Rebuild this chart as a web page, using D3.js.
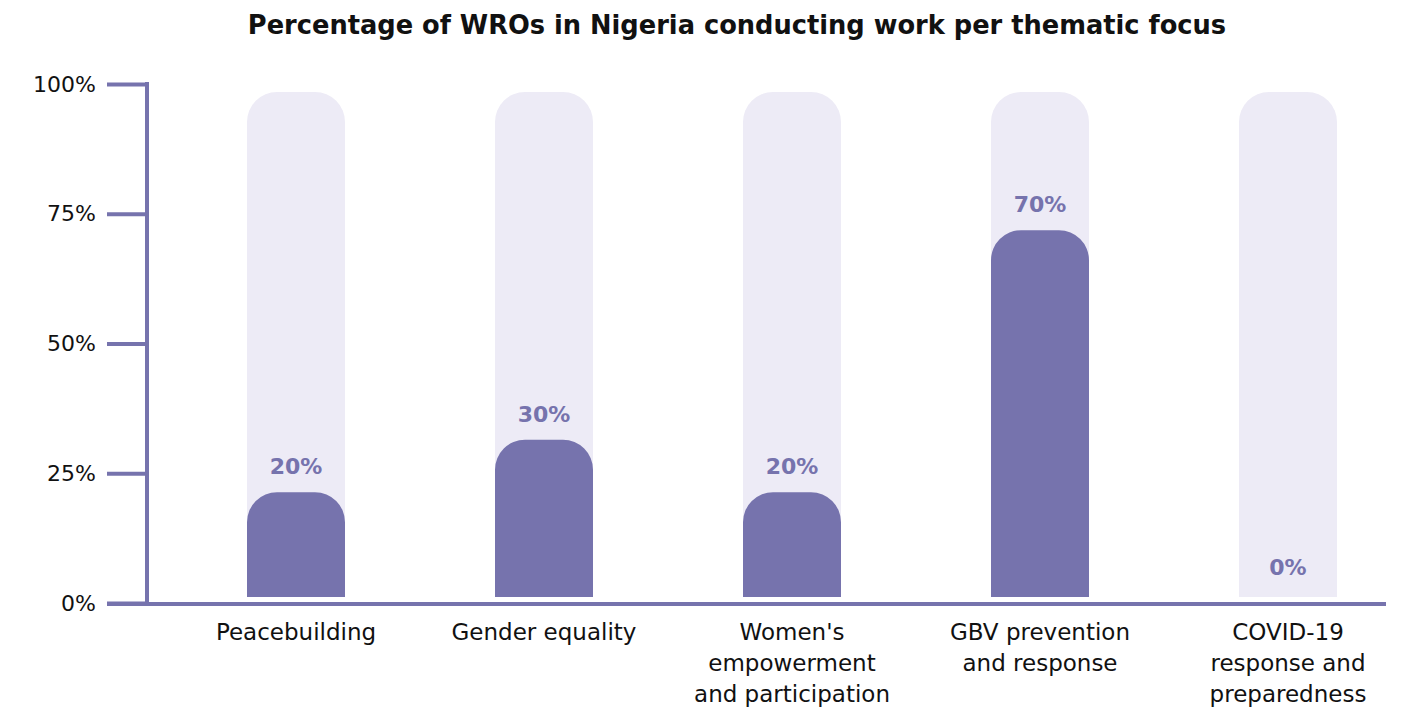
<!DOCTYPE html>
<html>
<head>
<meta charset="utf-8">
<script src="https://cdn.jsdelivr.net/npm/d3@7"></script>
<style>
  body { margin: 0; background: #fff; }
  svg { display: block; font-family: "DejaVu Sans", sans-serif; }
</style>
</head>
<body>
<div id="chart"></div>
<script>
// data
const categories = [
    ["Peacebuilding"],
    ["Gender equality"],
    ["Women's", "empowerment", "and participation"],
    ["GBV prevention", "and response"],
    ["COVID-19", "response and", "preparedness"]
];
const values = [20, 30, 20, 70, 0];
const tickValues = [0, 25, 50, 75, 100];

const width = 1404;
const height = 710;
const purple = "#7673ad";
const track = "#edebf6";

const svg = d3.select("#chart").append("svg")
    .attr("width", width)
    .attr("height", height);

// title
svg.append("text")
    .attr("x", 737)
    .attr("y", 34)
    .attr("text-anchor", "middle")
    .attr("font-size", 25.7)
    .attr("font-weight", "bold")
    .attr("fill", "#111")
    .text("Percentage of WROs in Nigeria conducting work per thematic focus");

// scales
const x = d3.scaleBand()
    .domain(d3.range(categories.length))
    .range([172, 1412])
    .padding(0);
const barW = 98;

const yAxisScale = d3.scaleLinear().domain([0, 100]).range([603, 84]);
const yBar = d3.scaleLinear().domain([0, 100]).range([597, 73]);
const trackTop = 92;

// background tracks
svg.append("g")
    .selectAll("path")
    .data(values)
    .join("path")
    .attr("fill", track)
    .attr("d", (d, i) => roundedTop(x(i) + x.bandwidth() / 2 - barW / 2, trackTop, barW, yBar(0) - trackTop, 30));

// bars
svg.append("g")
    .selectAll("path")
    .data(values)
    .join("path")
    .attr("fill", purple)
    .attr("d", (d, i) => d > 0
        ? roundedTop(x(i) + x.bandwidth() / 2 - barW / 2, yBar(d), barW, yBar(0) - yBar(d), 30)
        : null);

// value labels
svg.append("g")
    .selectAll("text")
    .data(values)
    .join("text")
    .attr("x", (d, i) => x(i) + x.bandwidth() / 2)
    .attr("y", d => yBar(d) - (d > 0 ? 18 : 22))
    .attr("text-anchor", "middle")
    .attr("font-size", 22)
    .attr("font-weight", "bold")
    .attr("fill", purple)
    .text(d => d + "%");

// y axis
const yAxis = svg.append("g")
    .attr("transform", "translate(147,0)")
    .call(d3.axisLeft(yAxisScale).tickValues(tickValues).tickFormat(d => d + "%").tickSize(40).tickPadding(11));
yAxis.select(".domain").remove();
yAxis.selectAll(".tick line").attr("stroke", purple).attr("stroke-width", 4);
yAxis.selectAll(".tick text")
    .attr("font-size", 22)
    .attr("font-family", "'DejaVu Sans', sans-serif")
    .attr("fill", "#111");

svg.append("line")
    .attr("x1", 147).attr("x2", 147)
    .attr("y1", yAxisScale(100) - 2).attr("y2", 604)
    .attr("stroke", purple).attr("stroke-width", 4);

svg.append("line")
    .attr("x1", 107).attr("x2", 1386)
    .attr("y1", 604).attr("y2", 604)
    .attr("stroke", purple).attr("stroke-width", 4);

// category labels
const cat = svg.append("g")
    .selectAll("text")
    .data(categories)
    .join("text")
    .attr("x", (d, i) => x(i) + x.bandwidth() / 2)
    .attr("y", 640)
    .attr("text-anchor", "middle")
    .attr("font-size", 23)
    .attr("fill", "#111");
cat.each(function(lines) {
    const t = d3.select(this);
    lines.forEach((l, k) => {
        t.append("tspan")
            .attr("x", t.attr("x"))
            .attr("dy", k === 0 ? 0 : 31)
            .text(l);
    });
});

function roundedTop(x0, y0, w, h, r) {
    r = Math.min(r, h, w / 2);
    const p = d3.path();
    p.moveTo(x0, y0 + h);
    p.lineTo(x0, y0 + r);
    p.arcTo(x0, y0, x0 + r, y0, r);
    p.lineTo(x0 + w - r, y0);
    p.arcTo(x0 + w, y0, x0 + w, y0 + r, r);
    p.lineTo(x0 + w, y0 + h);
    p.closePath();
    return p.toString();
}
</script>
</body>
</html>
